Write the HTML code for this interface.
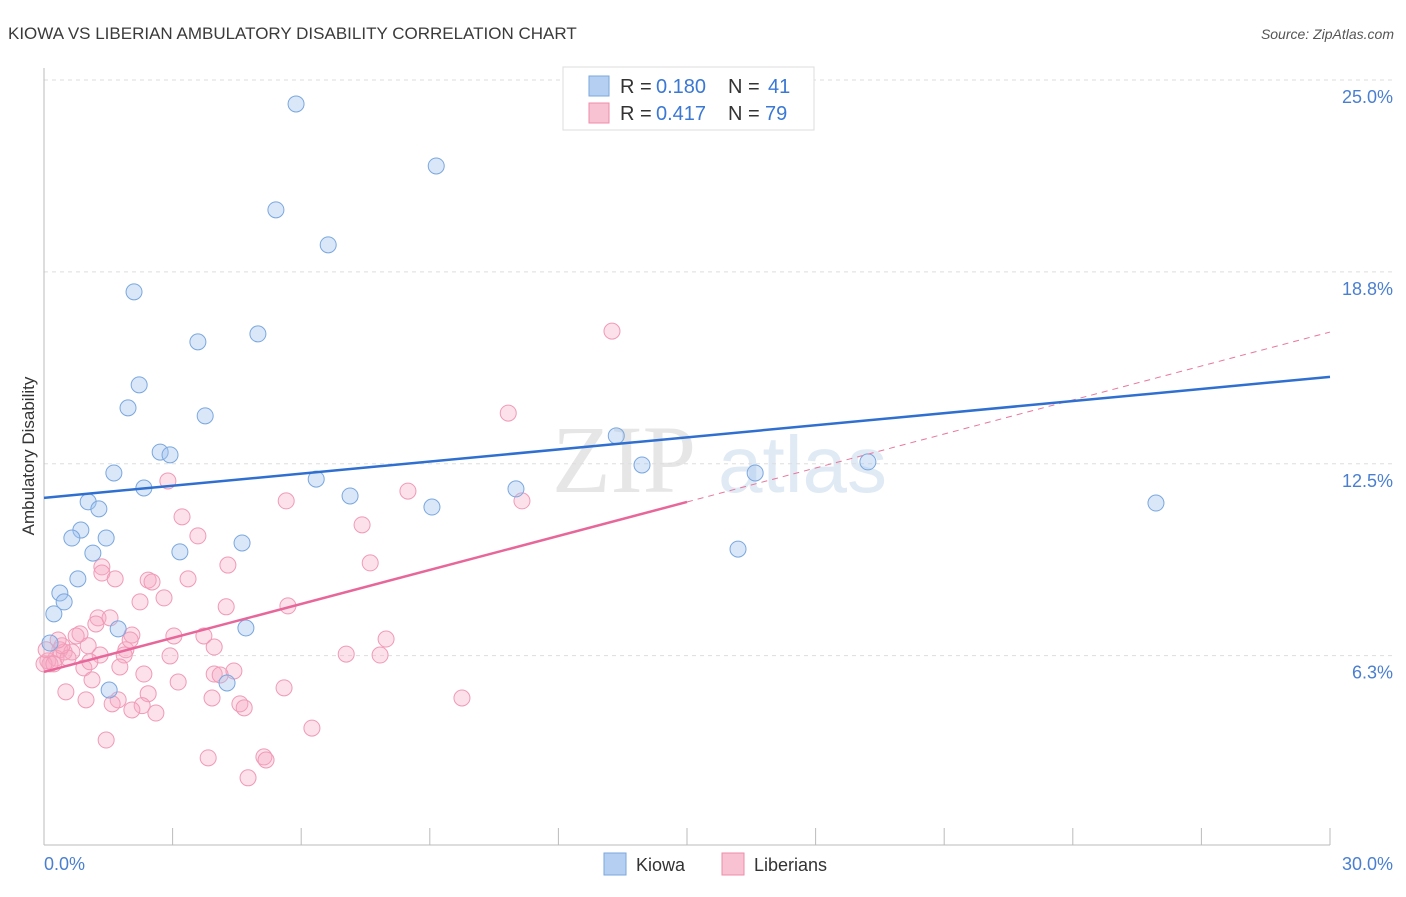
<!DOCTYPE html>
<html><head><meta charset="utf-8"><style>
body{margin:0;background:#fff;font-family:"Liberation Sans",sans-serif;}
</style></head><body>
<svg id="chart" width="1406" height="892" xmlns="http://www.w3.org/2000/svg" font-family="Liberation Sans, sans-serif">
<text x="8" y="39" font-size="17" fill="#3a3a3a">KIOWA VS LIBERIAN AMBULATORY DISABILITY CORRELATION CHART</text>
<text x="1394" y="39" font-size="14" font-style="italic" fill="#555" text-anchor="end">Source: ZipAtlas.com</text>
<g>
<text x="552" y="492" font-size="96" font-family="Liberation Serif, serif" fill="#e6e6e6">ZIP</text>
<text x="718" y="492" font-size="80" fill="#e0eaf5">atlas</text>
</g>
<g id="grid"></g>
<g id="axes"></g>
<g id="marks"></g>
<text transform="translate(34,456) rotate(-90)" font-size="17" fill="#333" text-anchor="middle">Ambulatory Disability</text>
<g>
<rect x="563" y="67" width="251" height="63" fill="#fff" stroke="#ddd"/>
<rect x="589" y="76" width="20" height="20" fill="#b5cff3" stroke="#7aa7de"/>
<rect x="589" y="103" width="20" height="20" fill="#f8c2d3" stroke="#ee8cab"/>
<text x="620" y="93" font-size="20" fill="#333">R =</text>
<text x="656" y="93" font-size="20" fill="#3b78d4">0.180</text>
<text x="728" y="93" font-size="20" fill="#333">N =</text>
<text x="768" y="93" font-size="20" fill="#3b78d4">41</text>
<text x="620" y="120" font-size="20" fill="#333">R =</text>
<text x="656" y="120" font-size="20" fill="#3b78d4">0.417</text>
<text x="728" y="120" font-size="20" fill="#333">N =</text>
<text x="765" y="120" font-size="20" fill="#3b78d4">79</text>
</g>
<g>
<rect x="604" y="853" width="22" height="22" fill="#b5cff3" stroke="#7aa7de"/>
<text x="636" y="871" font-size="18" fill="#333">Kiowa</text>
<rect x="722" y="853" width="22" height="22" fill="#f8c2d3" stroke="#ee8cab"/>
<text x="754" y="871" font-size="18" fill="#333">Liberians</text>
</g>
</svg>
<script>
const kiowaX=[5.88,9.15,5.41,6.63,2.10,4.99,3.59,2.22,1.96,3.76,13.35,2.71,2.94,13.95,19.22,16.59,1.63,6.35,2.33,11.01,7.14,1.03,1.28,9.05,25.94,0.86,0.65,1.45,4.62,1.14,3.17,16.19,0.79,0.37,0.47,0.23,1.73,4.71,0.14,4.27,1.52];
const kiowaY=[24.22,22.20,20.77,19.63,18.10,16.73,16.47,15.07,14.32,14.06,13.41,12.88,12.79,12.46,12.56,12.20,12.20,12.0,11.71,11.68,11.45,11.26,11.03,11.09,11.22,10.34,10.08,10.08,9.92,9.59,9.63,9.72,8.75,8.29,8.0,7.61,7.12,7.15,6.66,5.36,5.13];
const libX=[13.25,10.83,2.89,8.49,5.65,11.15,3.22,7.42,3.59,7.61,4.29,1.35,1.35,1.66,2.43,2.52,3.36,2.80,2.24,4.25,5.69,1.26,1.21,1.54,0.84,0.75,2.05,3.03,3.73,7.98,3.97,0.37,0.47,1.03,0.65,1.91,1.87,0.28,0.09,0.14,0.56,2.94,7.05,7.84,0.93,1.77,2.33,4.43,3.97,4.11,1.12,3.13,0.51,5.60,2.43,9.75,3.92,0.98,1.73,1.59,2.29,4.57,4.67,2.05,2.61,6.25,1.45,3.83,5.13,5.18,4.76,0,0.23,0.05,0.42,0.33,2.01,1.31,1.07];
const libY=[16.82,14.15,11.94,11.61,11.29,11.29,10.77,10.51,10.15,9.27,9.20,9.14,8.94,8.75,8.71,8.65,8.75,8.13,8.0,7.84,7.87,7.48,7.28,7.48,6.96,6.89,6.92,6.89,6.89,6.79,6.53,6.44,6.37,6.57,6.37,6.44,6.27,6.17,6.08,5.98,6.17,6.24,6.30,6.27,5.85,5.88,5.65,5.75,5.65,5.62,5.46,5.39,5.07,5.20,5.01,4.87,4.87,4.81,4.81,4.68,4.62,4.68,4.55,4.48,4.38,3.89,3.50,2.92,2.95,2.85,2.27,5.98,5.98,6.44,6.57,6.76,6.76,6.27,6.05];
const yTicks=[25,18.75,12.5,6.25];
const yTickLabels=["25.0%","18.8%","12.5%","6.3%"];
const xTicks=[0,3,6,9,12,15,18,21,24,27,30];
const kiowaTrend=[11.39,15.33];
const libTrend=[5.72,16.79];
const libSolidEnd=15;

const NS="http://www.w3.org/2000/svg";
const X=v=>44+v*(1330-44)/30;
const Y=v=>80+(25-v)*30.7;
function mk(tag,attrs,parent){const e=document.createElementNS(NS,tag);for(const k in attrs)e.setAttribute(k,attrs[k]);parent.appendChild(e);return e;}
const grid=document.getElementById('grid'),axes=document.getElementById('axes'),marks=document.getElementById('marks');
yTicks.forEach((t,i)=>{
  const l=mk('line',{x1:44,x2:1394,y1:Y(t),y2:Y(t),stroke:'#ddd','stroke-dasharray':'4,4'},grid);
  
  
  const tx=mk('text',{x:1393,y:Y(t)+23,'font-size':18,fill:'#4a7fd0','text-anchor':'end'},axes);
  tx.textContent=yTickLabels[i];
  
  
});
const ax=mk('line',{x1:44,x2:1330,y1:845,y2:845,stroke:'#bbb'},axes);


const ay=mk('line',{x1:44,x2:44,y1:68,y2:845,stroke:'#bbb'},axes);


xTicks.forEach(t=>{
  const l=mk('line',{x1:X(t),x2:X(t),y1:828,y2:845,stroke:'#bbb'},axes);
  
  
});
const x0=mk('text',{x:44,y:870,'font-size':18,fill:'#4a7fd0'},axes);x0.textContent=xTicks[0].toFixed(1)+'%';


const x1=mk('text',{x:1393,y:870,'font-size':18,fill:'#4a7fd0','text-anchor':'end'},axes);x1.textContent=xTicks[xTicks.length-1].toFixed(1)+'%';



libX.forEach((v,i)=>{
  const c=mk('circle',{cx:X(v),cy:Y(libY[i]),r:8,fill:'rgba(246,168,195,0.35)',stroke:'#f09ab6','stroke-width':1},marks);
  
  
});
kiowaX.forEach((v,i)=>{
  const c=mk('circle',{cx:X(v),cy:Y(kiowaY[i]),r:8,fill:'rgba(160,195,240,0.4)',stroke:'#7aa7de','stroke-width':1},marks);
  
  
});
const ly=v=>libTrend[0]+(libTrend[1]-libTrend[0])*v/30;
const ld=mk('line',{x1:X(libSolidEnd),y1:Y(ly(libSolidEnd)),x2:X(30),y2:Y(libTrend[1]),stroke:'#e8779d','stroke-width':1,'stroke-dasharray':'6,5'},marks);


const ls=mk('line',{x1:X(0),y1:Y(libTrend[0]),x2:X(libSolidEnd),y2:Y(ly(libSolidEnd)),stroke:'#e8679a','stroke-width':2.5},marks);


const kt=mk('line',{x1:X(0),y1:Y(kiowaTrend[0]),x2:X(30),y2:Y(kiowaTrend[1]),stroke:'#2f6fd0','stroke-width':2.5},marks);


</script>
</body></html>
